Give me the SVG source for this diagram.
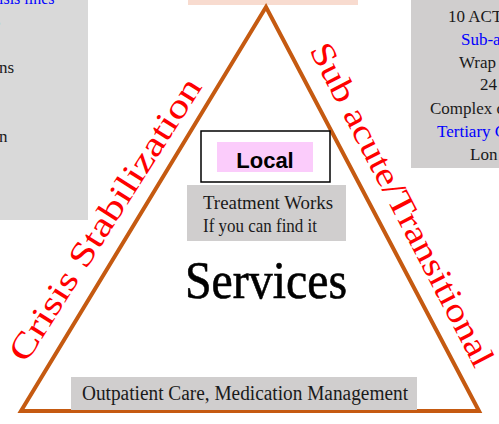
<svg xmlns="http://www.w3.org/2000/svg" width="499" height="424" viewBox="0 0 499 424">
<style>
.serif{font-family:"Liberation Serif","DejaVu Serif",serif;}
.side{font-family:"Liberation Serif","DejaVu Serif",serif;font-size:34px;fill:#ff0000;}
.dark{fill:#1a1a1a;}
.blue{fill:#0000ff;}
.gray1{fill:#d9d9d9;}
.gray2{fill:#d0cece;}
</style>
<rect width="499" height="424" fill="#ffffff"/>
<g id="left-panel">
<rect class="gray1" x="0" y="0" width="88" height="220"/>
<text class="serif blue" x="-1" y="4" font-size="16">isis lines</text>
<text class="serif blue" x="-6" y="26" font-size="16">s</text>
<text class="serif dark" x="-1" y="73" font-size="17">ns</text>
<text class="serif dark" x="-1" y="142" font-size="17">n</text>
</g>
<g id="right-panel">
<rect class="gray2" x="411" y="0" width="88" height="168"/>
<text class="serif dark" x="448" y="22" font-size="17">10 ACT</text>
<text class="serif blue" x="461" y="45" font-size="17">Sub-a</text>
<text class="serif dark" x="459" y="68" font-size="17">Wrap</text>
<text class="serif dark" x="480" y="90" font-size="17">24</text>
<text class="serif dark" x="430" y="114" font-size="17">Complex c</text>
<text class="serif blue" x="437" y="137" font-size="17">Tertiary C</text>
<text class="serif dark" x="470" y="160" font-size="17">Lon</text>
</g>
<g id="top-tab">
<rect x="188" y="0" width="170" height="5" fill="#f8dbcf"/>
</g>
<g id="connectors">
<polygon points="21,411 266,7 479,411" fill="none" stroke="#c55a11" stroke-width="4" stroke-linejoin="miter"/>
</g>
<g id="crisis-label">
<text class="side" transform="translate(26,364) rotate(-57.5)" textLength="329" lengthAdjust="spacingAndGlyphs">Crisis Stabilization</text>
</g>
<g id="subacute-label">
<text class="side" transform="translate(309,50) rotate(62.5)" textLength="360" lengthAdjust="spacingAndGlyphs">Sub acute/Transitional</text>
</g>
<g id="local">
<rect x="201" y="131" width="129" height="51" fill="#ffffff" stroke="#000000" stroke-width="1.5"/>
<rect x="217" y="142" width="96" height="30" fill="#fbccfb"/>
<text x="265" y="168" text-anchor="middle" font-family="'Liberation Sans','DejaVu Sans',sans-serif" font-weight="bold" font-size="22" fill="#000000">Local</text>
</g>
<g id="treatment">
<rect class="gray2" x="187" y="185" width="159" height="56"/>
<text class="serif dark" x="203" y="209" font-size="19" textLength="130" lengthAdjust="spacingAndGlyphs">Treatment Works</text>
<text class="serif dark" x="203" y="232" font-size="19" textLength="114" lengthAdjust="spacingAndGlyphs">If you can find it</text>
</g>
<g id="services">
<text class="serif" x="185" y="298" font-size="52" fill="#000000" stroke="#000000" stroke-width="0.6" textLength="162" lengthAdjust="spacingAndGlyphs">Services</text>
</g>
<g id="outpatient">
<rect class="gray2" x="71" y="377" width="346" height="33"/>
<text class="serif dark" x="82" y="400" font-size="20" textLength="326" lengthAdjust="spacingAndGlyphs">Outpatient Care, Medication Management</text>
</g>
</svg>
